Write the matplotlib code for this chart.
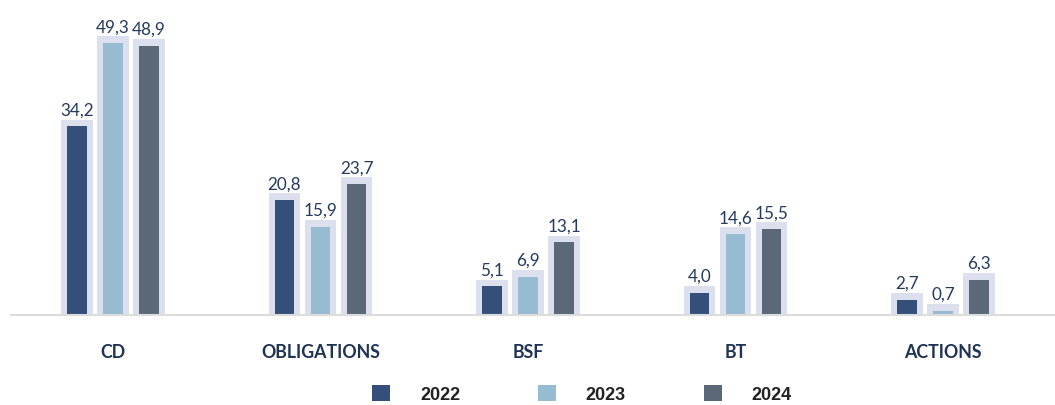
import numpy as np
import matplotlib
matplotlib.use("Agg")
import matplotlib.pyplot as plt
from matplotlib.patches import Patch

categories = ["CD", "OBLIGATIONS", "BSF", "BT", "ACTIONS"]
years = ["2022", "2023", "2024"]
v2022 = [34.2, 20.8, 5.1, 4.0, 2.7]
v2023 = [49.3, 15.9, 6.9, 14.6, 0.7]
v2024 = [48.9, 23.7, 13.1, 15.5, 6.3]
series = [v2022, v2023, v2024]
colors = ["#34507a", "#97bbd0", "#5a6878"]

W, H = 1055, 406
fig = plt.figure(figsize=(W / 100, H / 100), dpi=100)
ax = fig.add_axes([11 / W, (H - 315.5) / H, (W - 11) / W, 315.5 / H])

x = np.arange(len(categories))
offset = 0.1735
bar_w = 0.0916
shadow_w = 0.154
pad = 1.25

for i, (vals, col) in enumerate(zip(series, colors)):
    xs = x + (i - 1) * offset
    vals = np.array(vals)
    ax.bar(xs, vals + pad, width=shadow_w, color="#dcdfed", zorder=1)
    ax.bar(xs, vals, width=bar_w, color=col, zorder=2)
    for xi, v in zip(xs, vals):
        ax.annotate(f"{v:.1f}".replace(".", ","), (xi, v + pad),
                    xytext=(0, 1.5), textcoords="offset points",
                    ha="center", va="bottom", fontsize=12.3,
                    family="Lato", color="#253a5e")

ax.set_xlim(-(113 - 11) / 207.5, (W - 113) / 207.5)
ax.set_ylim(0, 315.5 / 5.5)
ax.set_xticks(x)
ax.set_xticklabels(categories, fontsize=12.8, family="Lato", fontweight="bold",
                   color="#1f3354")
ax.tick_params(axis="x", length=0, pad=20.5)
ax.set_yticks([])
for s in ["top", "right", "left"]:
    ax.spines[s].set_visible(False)
ax.spines["bottom"].set_color("#dcdcdc")
ax.spines["bottom"].set_linewidth(1.5)
ax.patch.set_visible(False)

handles = [Patch(facecolor=c, edgecolor="none") for c in colors]
fig.legend(handles, years, loc="center", bbox_to_anchor=(582 / W, (H - 395) / H),
           ncol=3, frameon=False, handlelength=1.0, handleheight=1.0,
           handletextpad=1.65, columnspacing=4.3, borderpad=0,
           prop={"family": "Liberation Sans", "weight": "bold", "size": 13},
           labelcolor="#222222")

fig.savefig("out.png", dpi=100)
